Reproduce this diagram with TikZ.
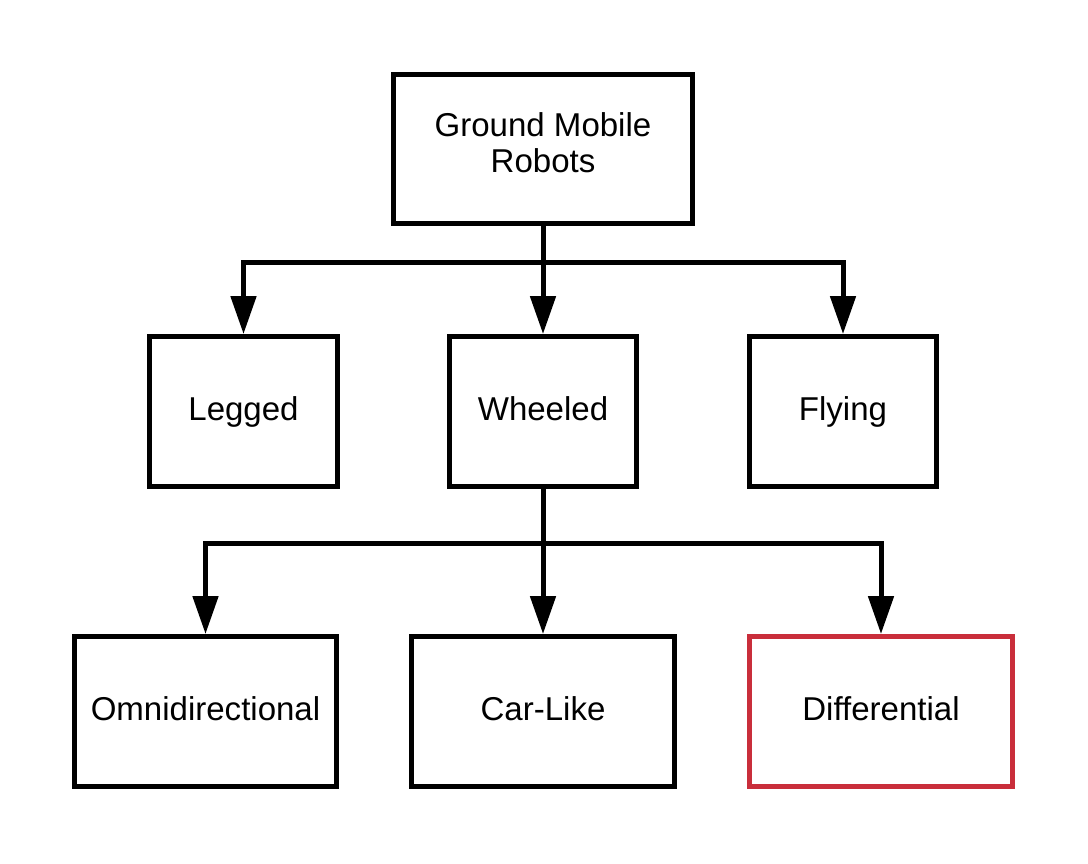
\documentclass[tikz,border=0pt]{standalone}
\usepackage{fontspec}
\setmainfont{Liberation Sans}
\usetikzlibrary{arrows.meta}
\definecolor{diffred}{RGB}{201,46,59}
\begin{document}
\begin{tikzpicture}[x=0.02cm, y=-0.02cm, font=\fontsize{18.8pt}{20.8pt}\selectfont,
  bx/.style={draw, line width=0.1cm, align=center, inner sep=0pt,
             text height=13.7pt, text depth=4pt,
             minimum width=3.76cm, minimum height=3cm},
  wide/.style={bx, minimum width=5.26cm},
  sel/.style={wide, draw=diffred},
  arr/.style={line width=0.1cm, -{Triangle[width=0.5cm,length=0.76cm]}},
]
  \useasboundingbox (0,0) rectangle (1088,863);

  \node[bx, minimum width=6cm, minimum height=2.98cm, text height=27.3pt, text depth=0pt] (root) at (543,149) {Ground Mobile\\Robots};

  \node[bx] (legged)  at (243.5,411.5) {Legged};
  \node[bx] (wheeled) at (543,411.5)   {Wheeled};
  \node[bx] (flying)  at (843,411.5)   {Flying};

  \node[wide] (omni)    at (205.5,711.5) {Omnidirectional};
  \node[wide] (carlike) at (543,711.5)   {Car-Like};
  \node[sel]  (diff)    at (881,711.5)   {Differential};

  \coordinate (j1) at (543,262);
  \coordinate (j2) at (543,543);

  \draw[arr] (root.south) -- (j1) -| (legged.north);
  \draw[arr] (root.south) -- (wheeled.north);
  \draw[arr] (root.south) -- (j1) -| (flying.north);

  \draw[arr] (wheeled.south) -- (j2) -| (omni.north);
  \draw[arr] (wheeled.south) -- (carlike.north);
  \draw[arr] (wheeled.south) -- (j2) -| (diff.north);
\end{tikzpicture}
\end{document}
